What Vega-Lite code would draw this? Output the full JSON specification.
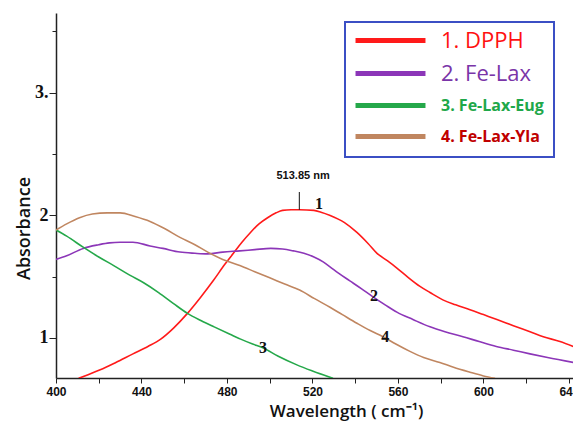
{
  "$schema": "https://vega.github.io/schema/vega-lite/v6.json",
  "width": 517,
  "height": 365,
  "autosize": {"type": "none"},
  "padding": {"left": 56, "top": 13, "right": 0, "bottom": 47},
  "background": "white",
  "config": {"view": {"stroke": null}},
  "datasets": {
    "curves": [
      {"series": "1. DPPH", "wl": 410.6, "abs": 0.67},
      {"series": "1. DPPH", "wl": 415, "abs": 0.70},
      {"series": "1. DPPH", "wl": 420.7, "abs": 0.74},
      {"series": "1. DPPH", "wl": 428, "abs": 0.80},
      {"series": "1. DPPH", "wl": 436, "abs": 0.87},
      {"series": "1. DPPH", "wl": 443, "abs": 0.93},
      {"series": "1. DPPH", "wl": 449, "abs": 0.99},
      {"series": "1. DPPH", "wl": 455, "abs": 1.08},
      {"series": "1. DPPH", "wl": 461.5, "abs": 1.20},
      {"series": "1. DPPH", "wl": 467.6, "abs": 1.33},
      {"series": "1. DPPH", "wl": 473.7, "abs": 1.47},
      {"series": "1. DPPH", "wl": 479, "abs": 1.60},
      {"series": "1. DPPH", "wl": 483, "abs": 1.69},
      {"series": "1. DPPH", "wl": 487, "abs": 1.78},
      {"series": "1. DPPH", "wl": 491, "abs": 1.86},
      {"series": "1. DPPH", "wl": 495, "abs": 1.93},
      {"series": "1. DPPH", "wl": 499, "abs": 1.98},
      {"series": "1. DPPH", "wl": 503, "abs": 2.02},
      {"series": "1. DPPH", "wl": 506, "abs": 2.04},
      {"series": "1. DPPH", "wl": 510, "abs": 2.045},
      {"series": "1. DPPH", "wl": 514, "abs": 2.045},
      {"series": "1. DPPH", "wl": 520.7, "abs": 2.04},
      {"series": "1. DPPH", "wl": 524, "abs": 2.025},
      {"series": "1. DPPH", "wl": 528, "abs": 2.0},
      {"series": "1. DPPH", "wl": 535, "abs": 1.94},
      {"series": "1. DPPH", "wl": 540.8, "abs": 1.86},
      {"series": "1. DPPH", "wl": 546, "abs": 1.77},
      {"series": "1. DPPH", "wl": 550.2, "abs": 1.69},
      {"series": "1. DPPH", "wl": 555, "abs": 1.63},
      {"series": "1. DPPH", "wl": 559.5, "abs": 1.57},
      {"series": "1. DPPH", "wl": 565, "abs": 1.49},
      {"series": "1. DPPH", "wl": 570.3, "abs": 1.42},
      {"series": "1. DPPH", "wl": 575, "abs": 1.37},
      {"series": "1. DPPH", "wl": 581, "abs": 1.31},
      {"series": "1. DPPH", "wl": 587, "abs": 1.27},
      {"series": "1. DPPH", "wl": 593.7, "abs": 1.23},
      {"series": "1. DPPH", "wl": 600, "abs": 1.19},
      {"series": "1. DPPH", "wl": 606.3, "abs": 1.15},
      {"series": "1. DPPH", "wl": 614, "abs": 1.10},
      {"series": "1. DPPH", "wl": 621.8, "abs": 1.05},
      {"series": "1. DPPH", "wl": 628, "abs": 1.01},
      {"series": "1. DPPH", "wl": 635.8, "abs": 0.97},
      {"series": "1. DPPH", "wl": 642, "abs": 0.93},

      {"series": "2. Fe-Lax", "wl": 400, "abs": 1.64},
      {"series": "2. Fe-Lax", "wl": 405, "abs": 1.67},
      {"series": "2. Fe-Lax", "wl": 412.7, "abs": 1.73},
      {"series": "2. Fe-Lax", "wl": 420, "abs": 1.76},
      {"series": "2. Fe-Lax", "wl": 425, "abs": 1.775},
      {"series": "2. Fe-Lax", "wl": 430, "abs": 1.78},
      {"series": "2. Fe-Lax", "wl": 436, "abs": 1.78},
      {"series": "2. Fe-Lax", "wl": 444, "abs": 1.75},
      {"series": "2. Fe-Lax", "wl": 450, "abs": 1.73},
      {"series": "2. Fe-Lax", "wl": 458, "abs": 1.70},
      {"series": "2. Fe-Lax", "wl": 465, "abs": 1.69},
      {"series": "2. Fe-Lax", "wl": 471, "abs": 1.685},
      {"series": "2. Fe-Lax", "wl": 478, "abs": 1.70},
      {"series": "2. Fe-Lax", "wl": 486, "abs": 1.71},
      {"series": "2. Fe-Lax", "wl": 493, "abs": 1.72},
      {"series": "2. Fe-Lax", "wl": 500.5, "abs": 1.73},
      {"series": "2. Fe-Lax", "wl": 506, "abs": 1.725},
      {"series": "2. Fe-Lax", "wl": 511, "abs": 1.71},
      {"series": "2. Fe-Lax", "wl": 516, "abs": 1.69},
      {"series": "2. Fe-Lax", "wl": 520.7, "abs": 1.66},
      {"series": "2. Fe-Lax", "wl": 525, "abs": 1.62},
      {"series": "2. Fe-Lax", "wl": 528.2, "abs": 1.58},
      {"series": "2. Fe-Lax", "wl": 532, "abs": 1.53},
      {"series": "2. Fe-Lax", "wl": 537.5, "abs": 1.465},
      {"series": "2. Fe-Lax", "wl": 543, "abs": 1.40},
      {"series": "2. Fe-Lax", "wl": 548.3, "abs": 1.335},
      {"series": "2. Fe-Lax", "wl": 554, "abs": 1.27},
      {"series": "2. Fe-Lax", "wl": 559.5, "abs": 1.21},
      {"series": "2. Fe-Lax", "wl": 567, "abs": 1.15},
      {"series": "2. Fe-Lax", "wl": 575, "abs": 1.09},
      {"series": "2. Fe-Lax", "wl": 582, "abs": 1.05},
      {"series": "2. Fe-Lax", "wl": 590.4, "abs": 1.01},
      {"series": "2. Fe-Lax", "wl": 598, "abs": 0.97},
      {"series": "2. Fe-Lax", "wl": 606, "abs": 0.93},
      {"series": "2. Fe-Lax", "wl": 614, "abs": 0.90},
      {"series": "2. Fe-Lax", "wl": 621.8, "abs": 0.87},
      {"series": "2. Fe-Lax", "wl": 630, "abs": 0.84},
      {"series": "2. Fe-Lax", "wl": 642, "abs": 0.80},

      {"series": "3. Fe-Lax-Eug", "wl": 400, "abs": 1.88},
      {"series": "3. Fe-Lax-Eug", "wl": 405, "abs": 1.83},
      {"series": "3. Fe-Lax-Eug", "wl": 412.7, "abs": 1.74},
      {"series": "3. Fe-Lax-Eug", "wl": 420, "abs": 1.66},
      {"series": "3. Fe-Lax-Eug", "wl": 427, "abs": 1.59},
      {"series": "3. Fe-Lax-Eug", "wl": 434.7, "abs": 1.51},
      {"series": "3. Fe-Lax-Eug", "wl": 441, "abs": 1.45},
      {"series": "3. Fe-Lax-Eug", "wl": 448, "abs": 1.37},
      {"series": "3. Fe-Lax-Eug", "wl": 455, "abs": 1.28},
      {"series": "3. Fe-Lax-Eug", "wl": 461.5, "abs": 1.20},
      {"series": "3. Fe-Lax-Eug", "wl": 468, "abs": 1.14},
      {"series": "3. Fe-Lax-Eug", "wl": 474, "abs": 1.09},
      {"series": "3. Fe-Lax-Eug", "wl": 481.4, "abs": 1.03},
      {"series": "3. Fe-Lax-Eug", "wl": 486.4, "abs": 0.99},
      {"series": "3. Fe-Lax-Eug", "wl": 492, "abs": 0.95},
      {"series": "3. Fe-Lax-Eug", "wl": 496.8, "abs": 0.92},
      {"series": "3. Fe-Lax-Eug", "wl": 504, "abs": 0.85},
      {"series": "3. Fe-Lax-Eug", "wl": 512.7, "abs": 0.78},
      {"series": "3. Fe-Lax-Eug", "wl": 520, "abs": 0.73},
      {"series": "3. Fe-Lax-Eug", "wl": 529.6, "abs": 0.67},

      {"series": "4. Fe-Lax-Yla", "wl": 400, "abs": 1.88},
      {"series": "4. Fe-Lax-Yla", "wl": 405, "abs": 1.93},
      {"series": "4. Fe-Lax-Yla", "wl": 411, "abs": 1.98},
      {"series": "4. Fe-Lax-Yla", "wl": 417, "abs": 2.01},
      {"series": "4. Fe-Lax-Yla", "wl": 424, "abs": 2.02},
      {"series": "4. Fe-Lax-Yla", "wl": 430, "abs": 2.02},
      {"series": "4. Fe-Lax-Yla", "wl": 437, "abs": 1.99},
      {"series": "4. Fe-Lax-Yla", "wl": 444, "abs": 1.95},
      {"series": "4. Fe-Lax-Yla", "wl": 451, "abs": 1.89},
      {"series": "4. Fe-Lax-Yla", "wl": 458, "abs": 1.82},
      {"series": "4. Fe-Lax-Yla", "wl": 465, "abs": 1.76},
      {"series": "4. Fe-Lax-Yla", "wl": 471, "abs": 1.70},
      {"series": "4. Fe-Lax-Yla", "wl": 478, "abs": 1.64},
      {"series": "4. Fe-Lax-Yla", "wl": 486, "abs": 1.59},
      {"series": "4. Fe-Lax-Yla", "wl": 493, "abs": 1.54},
      {"series": "4. Fe-Lax-Yla", "wl": 500, "abs": 1.49},
      {"series": "4. Fe-Lax-Yla", "wl": 507, "abs": 1.44},
      {"series": "4. Fe-Lax-Yla", "wl": 514, "abs": 1.39},
      {"series": "4. Fe-Lax-Yla", "wl": 521, "abs": 1.32},
      {"series": "4. Fe-Lax-Yla", "wl": 528.2, "abs": 1.25},
      {"series": "4. Fe-Lax-Yla", "wl": 534, "abs": 1.19},
      {"series": "4. Fe-Lax-Yla", "wl": 540.8, "abs": 1.12},
      {"series": "4. Fe-Lax-Yla", "wl": 547, "abs": 1.06},
      {"series": "4. Fe-Lax-Yla", "wl": 553, "abs": 1.01},
      {"series": "4. Fe-Lax-Yla", "wl": 559, "abs": 0.95},
      {"series": "4. Fe-Lax-Yla", "wl": 565.6, "abs": 0.89},
      {"series": "4. Fe-Lax-Yla", "wl": 572, "abs": 0.84},
      {"series": "4. Fe-Lax-Yla", "wl": 579.6, "abs": 0.80},
      {"series": "4. Fe-Lax-Yla", "wl": 586, "abs": 0.76},
      {"series": "4. Fe-Lax-Yla", "wl": 593.7, "abs": 0.72},
      {"series": "4. Fe-Lax-Yla", "wl": 600, "abs": 0.69},
      {"series": "4. Fe-Lax-Yla", "wl": 605.4, "abs": 0.67}
    ],
    "numbers": [
      {"t": "1", "wl": 523, "abs": 2.094},
      {"t": "2", "wl": 548.8, "abs": 1.34},
      {"t": "3", "wl": 496.8, "abs": 0.92},
      {"t": "4", "wl": 554, "abs": 1.01}
    ],
    "peak": [
      {"wl": 513.85, "y1": 2.045, "y2": 2.19, "ty": 2.32, "tx": 515.6, "t": "513.85 nm"}
    ]
  },
  "layer": [
    {
      "data": {"name": "curves"},
      "mark": {"type": "line", "strokeWidth": 1.6, "clip": true, "interpolate": "monotone"},
      "encoding": {
        "x": {
          "field": "wl", "type": "quantitative",
          "scale": {"domain": [400, 641.9], "nice": false, "zero": false},
          "axis": {
            "values": [400, 420, 440, 460, 480, 500, 520, 540, 560, 580, 600, 620, 640],
            "labelExpr": "datum.value % 40 == 0 ? datum.label : ''",
            "grid": false,
            "domainColor": "#222", "domainWidth": 1.5,
            "tickColor": "#222", "tickSize": 5, "tickWidth": 1,
            "labelFont": "Liberation Sans", "labelFontWeight": "bold", "labelFontSize": 12,
            "labelColor": "#111", "labelPadding": 3, "labelFlush": false,
            "title": "Wavelength ( cm⁻¹)",
            "titleFont": "Open Sans", "titleFontWeight": 600, "titleFontSize": 17,
            "titleColor": "#111",
            "titleX": 290, "titleY": 33, "titleBaseline": "middle", "titleAlign": "center", "titleAnchor": null
          }
        },
        "y": {
          "field": "abs", "type": "quantitative",
          "scale": {"domain": [0.673, 3.65], "nice": false, "zero": false},
          "axis": {
            "values": [1, 1.5, 2, 2.5, 3, 3.5],
            "labelExpr": "datum.value == 3 ? '3.' : (datum.value % 1 == 0 ? format(datum.value, 'd') : '')",
            "grid": false,
            "domainColor": "#222", "domainWidth": 1.5,
            "tickColor": "#222", "tickWidth": 1,
            "tickSize": {"condition": {"test": "datum.value % 1 == 0", "value": 7}, "value": 4},
            "labelFont": "Liberation Serif", "labelFontWeight": "bold", "labelFontSize": 18,
            "labelColor": "#111", "labelPadding": 1,
            "title": "Absorbance",
            "titleFont": "Open Sans", "titleFontWeight": 600, "titleFontSize": 18,
            "titleColor": "#111",
            "titleX": -32, "titleY": 215, "titleBaseline": "middle", "titleAlign": "center", "titleAnchor": null, "titleAngle": 270
          }
        },
        "color": {
          "field": "series", "type": "nominal",
          "scale": {
            "domain": ["1. DPPH", "2. Fe-Lax", "3. Fe-Lax-Eug", "4. Fe-Lax-Yla"],
            "range": ["#ff1a1a", "#8c36b8", "#25a84a", "#c08660"]
          },
          "legend": {
            "orient": "none", "legendX": 289, "legendY": 9,
            "title": null,
            "strokeColor": "#3b4fc4",
            "fillColor": "white",
            "padding": 10,
            "symbolType": "M-1.33,0H10.33",
            "symbolSize": 144,
            "symbolStrokeWidth": 5,
            "labelOffset": 69,
            "rowPadding": 10,
            "labelFont": "Open Sans",
            "labelLimit": 300,
            "encode": {
              "legend": {"update": {"strokeWidth": {"value": 2}}},
              "symbols": {
                "update": {
                  "stroke": {"signal": "datum.index == 0 ? '#ff0000' : datum.index == 1 ? '#6f30a0' : datum.index == 2 ? '#1faa4a' : '#bb845e'"}
                }
              },
              "labels": {
                "update": {
                  "fill": {"signal": "datum.index == 0 ? '#ff1010' : datum.index == 1 ? '#7a35a8' : datum.index == 2 ? '#1fa84a' : '#c00000'"},
                  "fontSize": {"signal": "datum.index < 2 ? 22 : 16"},
                  "fontWeight": {"signal": "datum.index < 2 ? 'normal' : 'bold'"}
                }
              }
            }
          }
        }
      }
    },
    {
      "data": {"name": "numbers"},
      "mark": {"type": "text", "font": "Liberation Serif", "fontWeight": "bold", "fontSize": 16, "color": "#111", "baseline": "middle", "align": "center"},
      "encoding": {
        "x": {"field": "wl", "type": "quantitative"},
        "y": {"field": "abs", "type": "quantitative"},
        "text": {"field": "t"}
      }
    },
    {
      "data": {"name": "peak"},
      "mark": {"type": "rule", "color": "#111", "strokeWidth": 1},
      "encoding": {
        "x": {"field": "wl", "type": "quantitative"},
        "y": {"field": "y1", "type": "quantitative"},
        "y2": {"field": "y2"}
      }
    },
    {
      "data": {"name": "peak"},
      "mark": {"type": "text", "font": "Liberation Sans", "fontWeight": "bold", "fontSize": 11, "color": "#111", "baseline": "middle", "align": "center"},
      "encoding": {
        "x": {"field": "tx", "type": "quantitative"},
        "y": {"field": "ty", "type": "quantitative"},
        "text": {"field": "t"}
      }
    }
  ]
}
